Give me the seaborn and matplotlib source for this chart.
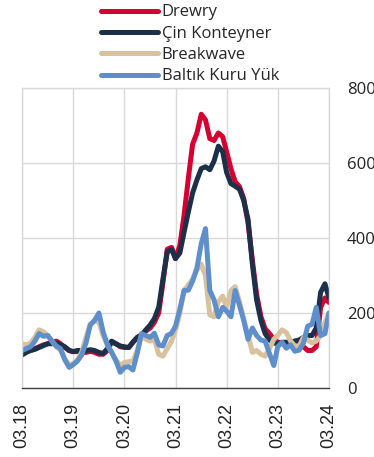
import numpy as np
import pandas as pd
import matplotlib
matplotlib.use("Agg")
import matplotlib.pyplot as plt
import seaborn as sns

# ---- data (monthly, Mar 2018 .. Mar 2024) ----
start_month = "2018-03-01"
n_months = 73

drewry = [92, 98, 100, 105, 110, 115, 118, 122, 125, 118, 108, 100, 97, 97, 95, 95, 98, 95, 90, 90,
          100, 123, 118, 110, 108, 108, 122, 135, 142, 152, 160, 175, 200, 280, 370, 375, 345, 380,
          460, 560, 650, 680, 730, 715, 665, 660, 680, 670, 630, 585, 550, 537, 505, 440, 340, 250,
          190, 158, 145, 130, 122, 120, 120, 120, 125, 120, 110, 100, 100, 110, 215, 240, 228]
cin_konteyner = [88, 95, 100, 103, 108, 113, 118, 118, 120, 115, 110, 100, 97, 100, 100, 100, 102, 100,
                 95, 92, 105, 125, 118, 112, 110, 108, 122, 135, 140, 155, 168, 185, 215, 290, 362, 370,
                 345, 360, 415, 470, 520, 555, 585, 590, 582, 605, 645, 630, 575, 545, 538, 530, 500,
                 450, 330, 235, 180, 145, 128, 120, 118, 122, 122, 122, 125, 128, 135, 140, 140, 160,
                 255, 278, 240]
breakwave = [118, 115, 120, 135, 155, 150, 140, 125, 110, 100, 78, 62, 65, 75, 95, 135, 170, 180, 175,
             140, 115, 95, 75, 60, 68, 70, 72, 100, 140, 130, 125, 130, 90, 85, 105, 125, 155, 200,
             260, 275, 290, 315, 330, 300, 195, 190, 230, 245, 215, 260, 270, 230, 185, 140, 95, 100,
             90, 85, 105, 130, 140, 155, 148, 125, 112, 112, 135, 128, 120, 125, 140, 175, 200]
baltik = [100, 105, 110, 125, 145, 138, 140, 125, 112, 105, 75, 55, 62, 72, 88, 120, 168, 180, 200,
          150, 115, 95, 72, 42, 55, 57, 48, 93, 145, 140, 135, 146, 115, 112, 140, 146, 165, 210, 260,
          261, 285, 320, 385, 425, 260, 235, 190, 215, 205, 190, 260, 220, 180, 130, 160, 140, 128,
          125, 92, 60, 110, 122, 106, 115, 98, 101, 120, 165, 170, 215, 140, 145, 200]

series_names = ["Drewry", "Çin Konteyner", "Breakwave", "Baltık Kuru Yük"]
series_values = [drewry, cin_konteyner, breakwave, baltik]
colors = ["#D40032", "#1C3049", "#D8C19E", "#5E8FCB"]

x_tick_labels = ["03.18", "03.19", "03.20", "03.21", "03.22", "03.23", "03.24"]
y_ticks = [0, 200, 400, 600, 800]

dates = pd.date_range(start_month, periods=n_months, freq="MS")
df = pd.concat([pd.DataFrame({"date": dates, "value": v, "series": n})
                for n, v in zip(series_names, series_values)], ignore_index=True)

sns.set_theme(style="white")
plt.rcParams["font.family"] = ["Open Sans", "DejaVu Sans"]

W, H = 374, 457
fig = plt.figure(figsize=(W / 100, H / 100), dpi=100)
ax = fig.add_axes([22 / W, 1 - 388 / H, (329 - 22) / W, (388 - 88) / H])

sns.lineplot(data=df, x="date", y="value", hue="series", hue_order=series_names,
             palette=dict(zip(series_names, colors)), linewidth=3.6, ax=ax,
             sort=False, estimator=None, legend=True)
for ln in ax.lines:
    ln.set_solid_joinstyle("round")
    ln.set_solid_capstyle("round")

handles, labels = ax.get_legend_handles_labels()
ax.get_legend().remove()
leg = fig.legend(handles, labels, loc="upper left",
                 bbox_to_anchor=(101 / W, 1 - 4.5 / H), frameon=False,
                 prop={"family": ["Open Sans", "DejaVu Sans"], "size": 12},
                 handlelength=3.4, handletextpad=0.25, labelspacing=0.32,
                 borderpad=0, borderaxespad=0)
for h in leg.get_lines():
    h.set_linewidth(3.6)
    h.set_solid_capstyle("round")

ax.set_xlim(dates[0], dates[-1])
ax.set_ylim(0, 800)
tick_dates = [dates[i] for i in range(0, n_months, 12)]
ax.set_xticks(tick_dates)
ax.set_xticklabels(x_tick_labels, rotation=90, va="top", ha="center",
                   family=["Liberation Sans Narrow", "Liberation Sans", "DejaVu Sans"], fontsize=13,
                   color="#222222")
ax.set_yticks(y_ticks)
ax.yaxis.tick_right()
ax.set_yticklabels([str(v) for v in y_ticks], family=["Open Sans", "DejaVu Sans"], fontsize=12,
                   color="#222222", ha="left")
ax.tick_params(axis="y", length=0, pad=13)
ax.tick_params(axis="x", length=0, pad=11)
ax.set_xlabel("")
ax.set_ylabel("")

ax.grid(True, color="#D9D9D9", linewidth=1.0)
ax.set_axisbelow(True)
for s in ["left", "top", "right"]:
    ax.spines[s].set_color("#D9D9D9")
    ax.spines[s].set_linewidth(1.0)
ax.spines["bottom"].set_color("#404040")
ax.spines["bottom"].set_linewidth(1.0)

fig.savefig("out.png", dpi=100)
